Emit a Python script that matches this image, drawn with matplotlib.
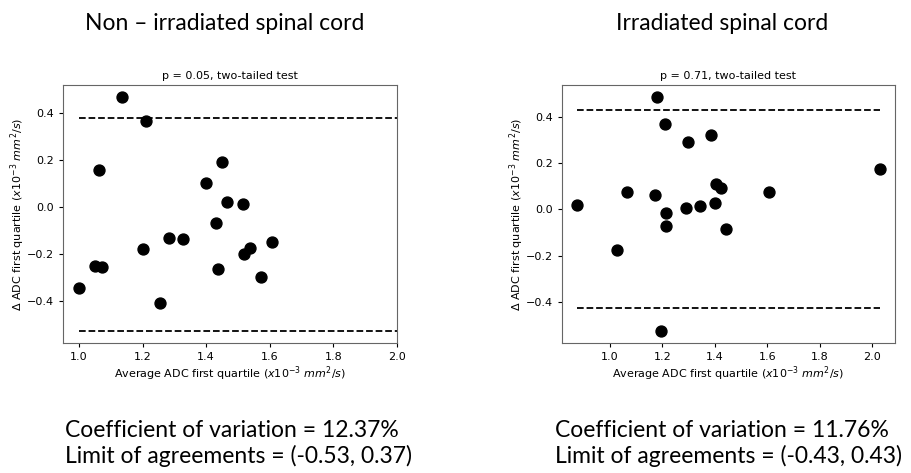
import matplotlib
matplotlib.use('Agg')
import matplotlib.pyplot as plt

# Bland-Altman data
non_irr_avg = [1.136, 1.211, 1.063, 1.450, 1.398, 1.466, 1.517, 1.432, 1.284, 1.326,
               1.202, 1.607, 1.539, 1.520, 1.051, 1.071, 1.437, 1.573, 0.999, 1.256]
non_irr_diff = [0.468, 0.366, 0.156, 0.189, 0.102, 0.021, 0.010, -0.068, -0.135, -0.139,
                -0.182, -0.149, -0.174, -0.203, -0.251, -0.258, -0.267, -0.299, -0.348, -0.409]
non_irr_loa = [-0.53, 0.377]

irr_avg = [1.179, 1.212, 1.386, 1.299, 2.027, 0.875, 1.067, 1.174, 1.606, 1.403,
           1.423, 1.402, 1.291, 1.344, 1.213, 1.215, 1.443, 1.028, 1.194]
irr_diff = [0.486, 0.366, 0.320, 0.291, 0.176, 0.017, 0.077, 0.060, 0.076, 0.108,
            0.093, 0.029, 0.004, 0.013, -0.014, -0.070, -0.086, -0.173, -0.525]
irr_loa = [-0.426, 0.428]

headers = ["Non \u2013 irradiated spinal cord", "Irradiated spinal cord"]
titles = ["p = 0.05, two-tailed test", "p = 0.71, two-tailed test"]
footers = [["Coefficient of variation = 12.37%", "Limit of agreements = (-0.53, 0.37)"],
           ["Coefficient of variation = 11.76%", "Limit of agreements = (-0.43, 0.43)"]]

xlab = r'Average ADC first quartile ($x10^{-3}\ mm^2/s$)'
ylab = r'$\Delta$ ADC first quartile ($x10^{-3}\ mm^2/s$)'

big_font = ['Lato', 'DejaVu Sans']

fig = plt.figure(figsize=(9.12, 4.73), dpi=100)
ax1 = fig.add_axes([0.069, 0.275, 0.366, 0.5455])
ax2 = fig.add_axes([0.616, 0.275, 0.365, 0.5455])

for ax, x, y, loa, t in [(ax1, non_irr_avg, non_irr_diff, non_irr_loa, titles[0]),
                         (ax2, irr_avg, irr_diff, irr_loa, titles[1])]:
    ax.scatter(x, y, s=62, color='black', zorder=3)
    xmax = 2.0 if ax is ax1 else max(x)
    ax.hlines(loa, min(x), xmax, colors='black', linestyles='--', linewidth=1.3)
    ax.set_title(t, fontsize=8, pad=4)
    ax.set_xlabel(xlab, fontsize=8, labelpad=2)
    ax.set_ylabel(ylab, fontsize=8, labelpad=0)
    ax.tick_params(labelsize=8, length=3)
    for sp in ax.spines.values():
        sp.set_color('#666666')
    ax.set_yticks([-0.4, -0.2, 0.0, 0.2, 0.4])

ax1.set_xlim(right=2.0)
ax1.set_xticks([1.0, 1.2, 1.4, 1.6, 1.8, 2.0])
ax2.set_xticks([1.0, 1.2, 1.4, 1.6, 1.8, 2.0])

# headers and footers
fig.text(0.246, 1 - 24 / 473, headers[0], ha='center', va='center', fontsize=16.5, family=big_font)
fig.text(0.792, 1 - 24 / 473, headers[1], ha='center', va='center', fontsize=16.5, family=big_font)
for i, xs in enumerate([65 / 912, 555 / 912]):
    fig.text(xs, 1 - 430 / 473, footers[i][0], ha='left', va='center', fontsize=16.5, family=big_font)
    fig.text(xs, 1 - 456 / 473, footers[i][1], ha='left', va='center', fontsize=16.5, family=big_font)

fig.savefig('out.png', dpi=100)
